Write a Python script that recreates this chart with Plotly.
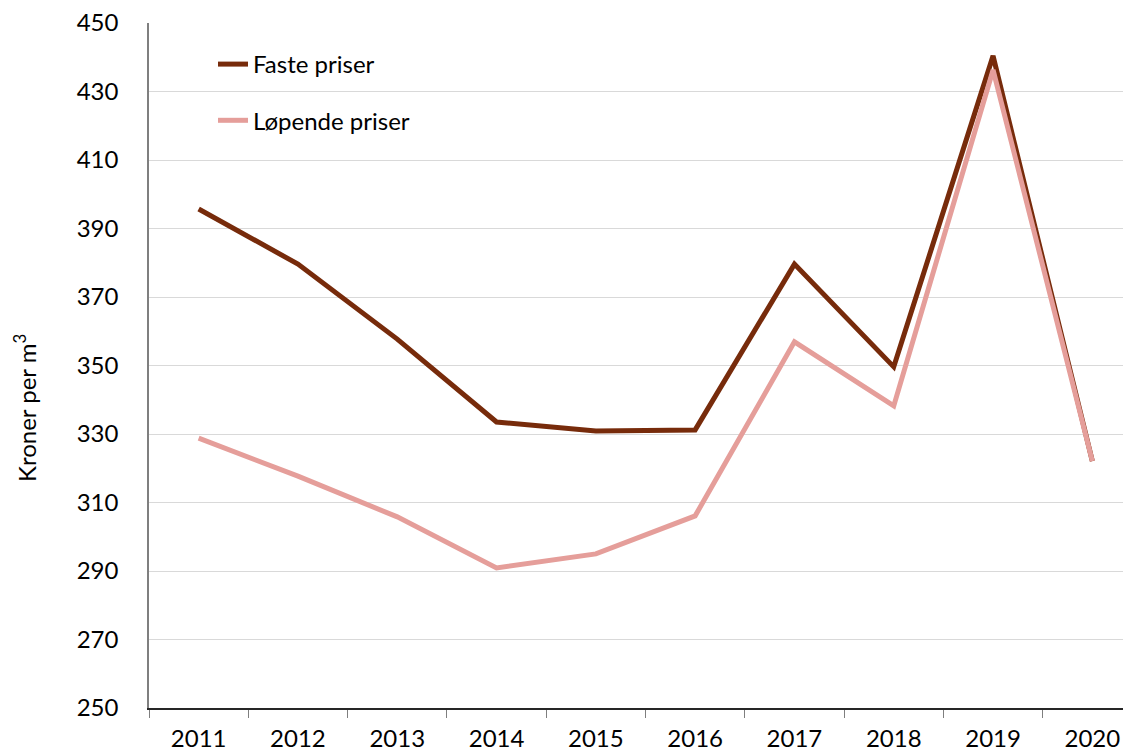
import plotly.graph_objects as go

years = ["2011", "2012", "2013", "2014", "2015", "2016", "2017", "2018", "2019", "2020"]
faste = [395.7, 379.6, 357.7, 333.5, 330.9, 331.2, 379.6, 349.6, 440.4, 322.1]
lopende = [328.8, 317.7, 305.8, 290.9, 295.0, 306.1, 356.9, 338.2, 436.3, 322.1]
y_ticks = [250, 270, 290, 310, 330, 350, 370, 390, 410, 430, 450]

FONT = "Lato"
FS = 24

fig = go.Figure()
fig.add_trace(go.Scatter(x=years, y=faste, mode="lines", name="Faste priser",
                         line=dict(color="#772B0B", width=5), legendgroup="a"))
fig.add_trace(go.Scatter(x=years, y=lopende, mode="lines", name="Løpende priser",
                         line=dict(color="#E59E9A", width=5), legendgroup="b"))

# page body has an 8px margin; work in window coordinates and convert
OFF = 8
WIN_W, WIN_H = 1131, 753
W, H = WIN_W - OFF, WIN_H - OFF
plot_left, plot_top, plot_bottom = 149, 23, 708
L, T, R = plot_left - OFF, plot_top - OFF, 0
B = H - (plot_bottom - OFF)
band = 99.3
pw = W - L - R
ph = H - T - B


def px_x(x):
    return (x - plot_left) / pw


def px_y(y):
    return 1 - (y - plot_top) / ph


fig.update_layout(
    width=W, height=H,
    margin=dict(l=L, r=R, t=T, b=B, autoexpand=False),
    plot_bgcolor="white", paper_bgcolor="white",
    font=dict(family=FONT, size=FS, color="#000000"),
    showlegend=True,
    legend=dict(x=px_x(213), y=px_y(42), xanchor="left", yanchor="top",
                bgcolor="rgba(0,0,0,0)", font=dict(size=FS), tracegroupgap=22),
    xaxis=dict(type="category", range=[-0.5, -0.5 + pw / band], tickson="boundaries",
               ticks="outside", ticklen=8, tickcolor="#7f7f7f", showline=True,
               linecolor="#262626", linewidth=1.5, showgrid=False, fixedrange=True,
               automargin=False, ticklabelstandoff=8, ticklabeloverflow="allow",
               tickfont=dict(size=FS)),
    yaxis=dict(range=[250, 450], tickvals=y_ticks, showgrid=True, gridcolor="#d9d9d9",
               gridwidth=1, showline=True, linecolor="#7f7f7f", linewidth=1.5,
               ticks="", ticklabelstandoff=24, zeroline=False, automargin=False,
               ticklabeloverflow="allow", tickfont=dict(size=FS)),
    annotations=[dict(text="Kroner per m<sup>3</sup>", x=px_x(25), y=px_y(408),
                      xref="paper", yref="paper", textangle=-90, showarrow=False,
                      font=dict(size=FS), xanchor="center", yanchor="middle")],
)

fig.write_html("out.html")
